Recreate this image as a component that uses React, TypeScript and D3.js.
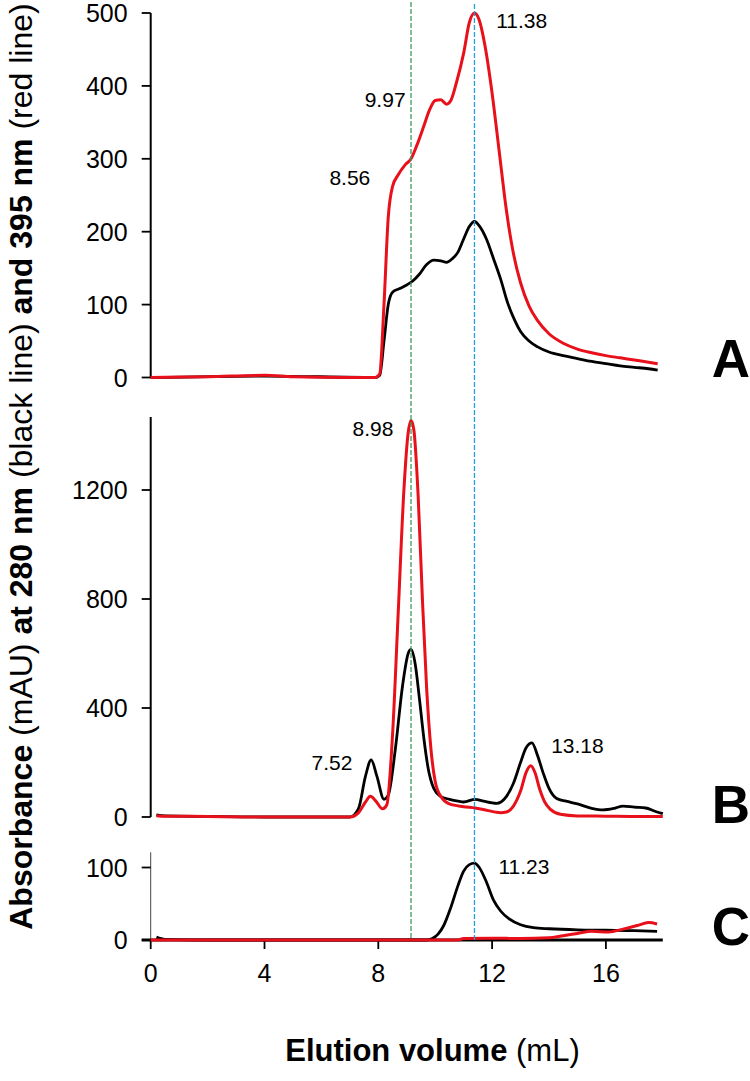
import React from "react";
import * as d3 from "d3";

type Pt = [number, number];

// Elution volume (mL) / absorbance (mAU) pairs
const panelARed: Pt[] = [
  [0, 0], [2, 1], [4, 3], [5, 1], [7, 0], [7.9, 0], [8.05, 5], [8.2, 100], [8.35, 220], [8.5, 262],
  [8.7, 278], [8.95, 292], [9.15, 300], [9.35, 318], [9.6, 345], [9.8, 367], [10.0, 380], [10.2, 381],
  [10.4, 375], [10.55, 380], [10.75, 405], [11.0, 445], [11.2, 487], [11.38, 500], [11.55, 490],
  [11.75, 455], [12.0, 390], [12.25, 310], [12.5, 230], [12.75, 170], [13.0, 130], [13.3, 98],
  [13.6, 78], [14.0, 60], [14.5, 47], [15.0, 39], [15.5, 34], [16.0, 30], [16.5, 27], [17.0, 24],
  [17.5, 21], [17.82, 19],
];
const panelABlack: Pt[] = [
  [0, 0], [4, 2], [7.9, 0], [8.05, 3], [8.2, 50], [8.35, 100], [8.5, 117], [8.75, 122], [9.0, 127],
  [9.2, 132], [9.45, 142], [9.7, 155], [9.95, 161], [10.2, 160], [10.4, 158], [10.6, 163], [10.8, 172],
  [11.0, 190], [11.2, 207], [11.38, 214], [11.55, 208], [11.8, 190], [12.05, 163], [12.3, 135],
  [12.55, 102], [12.8, 78], [13.0, 63], [13.3, 50], [13.6, 42], [14.0, 35], [14.5, 30], [15.0, 26],
  [15.5, 22], [16.0, 19], [16.5, 16], [17.0, 14], [17.5, 12], [17.82, 10],
];
const panelBRed: Pt[] = [
  [0.2, 5], [0.5, 3], [2, 2], [4, 0], [6, 0], [7.0, 0], [7.3, 15], [7.55, 55], [7.72, 76], [7.9, 60],
  [8.15, 30], [8.3, 45], [8.5, 300], [8.7, 750], [8.9, 1200], [9.05, 1410], [9.15, 1455], [9.25, 1420],
  [9.4, 1180], [9.55, 800], [9.7, 470], [9.85, 250], [10.0, 130], [10.2, 75], [10.5, 48], [11.0, 38],
  [11.4, 33], [11.8, 25], [12.3, 16], [12.5, 18], [12.75, 40], [13.0, 95], [13.2, 165], [13.36, 188],
  [13.5, 165], [13.68, 100], [13.85, 55], [14.05, 28], [14.4, 10], [15, 4], [16, 3], [17, 2], [18, 2],
];
const panelBBlack: Pt[] = [
  [0.2, 8], [0.5, 4], [2, 2], [4, 0], [7.0, 0], [7.3, 30], [7.55, 150], [7.75, 210], [7.95, 150],
  [8.2, 65], [8.35, 80], [8.6, 250], [8.85, 480], [9.05, 600], [9.15, 615], [9.3, 560], [9.45, 430],
  [9.6, 290], [9.75, 180], [9.95, 105], [10.2, 75], [10.5, 65], [10.8, 58], [11.0, 55], [11.4, 65],
  [11.7, 58], [12.15, 50], [12.5, 75], [12.75, 124], [13.0, 200], [13.2, 255], [13.4, 272],
  [13.6, 225], [13.8, 160], [14.0, 105], [14.27, 68], [14.6, 58], [15.0, 48], [15.5, 32], [15.9, 26],
  [16.3, 32], [16.6, 40], [17.0, 36], [17.4, 33], [17.7, 22], [18.0, 12],
];
const panelCBlack: Pt[] = [
  [0.2, 4], [0.5, 1], [2, 0], [9.7, 0], [9.9, 2], [10.1, 8], [10.3, 20], [10.55, 45], [10.8, 75],
  [11.0, 95], [11.2, 104], [11.38, 106], [11.55, 100], [11.8, 80], [12.05, 55], [12.3, 40], [12.6, 29],
  [13.0, 21], [13.45, 17], [14.0, 15.5], [15.0, 14], [16.0, 13.5], [17.0, 13], [17.8, 12],
];
const panelCRed: Pt[] = [
  [0, 0], [10.8, 0], [11.0, 2], [12, 2.5], [13, 2], [14.0, 3], [14.5, 6], [15.0, 9], [15.5, 12],
  [16.1, 11], [16.6, 15], [17.1, 20], [17.5, 24], [17.8, 22],
];

const xTicks = [0, 4, 8, 12, 16];
const aTicks = [0, 100, 200, 300, 400, 500];
const bTicks = [0, 400, 800, 1200];
const cTicks = [0, 100];

const greenLineX = 9.15;
const blueLineX = 11.38;

// label text, x (mL), y (value)
const annotA: [string, number, number][] = [["11.38", 13.04, 490], ["9.97", 8.24, 381], ["8.56", 7.0, 275]];
const annotB: [string, number, number][] = [["8.98", 7.81, 1427], ["7.52", 6.37, 202], ["13.18", 15.0, 264]];
const annotC: [string, number, number][] = [["11.23", 13.12, 101]];

const FONT = "'Liberation Sans', Arial, Helvetica, sans-serif";
const RED = "#e8101a";

export default function App() {
  const x = d3.scaleLinear().domain([0, 18]).range([150.7, 662.8]);
  const yA = d3.scaleLinear().domain([0, 500]).range([377.5, 13]);
  const yB = d3.scaleLinear().domain([0, 1200]).range([817, 490]);
  const yC = d3.scaleLinear().domain([0, 100]).range([940, 867.5]);

  const mk = (y: d3.ScaleLinear<number, number>) =>
    d3.line<Pt>().x((d) => x(d[0])).y((d) => y(d[1])).curve(d3.curveMonotoneX);

  const lA = mk(yA), lB = mk(yB), lC = mk(yC);
  const axX = x(0);

  const yAxis = (
    y: d3.ScaleLinear<number, number>,
    ticks: number[],
    top: number,
    width: number,
    color: string
  ) => (
    <g>
      <line x1={axX} x2={axX} y1={top} y2={y(0)} stroke={color} strokeWidth={width} />
      {ticks.map((t) => (
        <g key={t}>
          <line x1={axX - 9} x2={axX} y1={y(t)} y2={y(t)} stroke="#000" strokeWidth={1.8} />
          <text x={axX - 23} y={y(t)} dy="0.36em" textAnchor="end" fontSize={25} fontFamily={FONT}>
            {t}
          </text>
        </g>
      ))}
    </g>
  );

  const annot = (items: [string, number, number][], y: d3.ScaleLinear<number, number>) =>
    items.map(([s, vx, vy]) => (
      <text key={s} x={x(vx)} y={y(vy)} dy="0.36em" textAnchor="middle" fontSize={21} fontFamily={FONT}>
        {s}
      </text>
    ));

  return (
    <svg width={750} height={1081} style={{ position: "absolute", left: 0, top: 0, background: "#fff" }}>
      <rect width={750} height={1081} fill="#fff" />
      {/* axes */}
      {yAxis(yA, aTicks, yA(500), 2, "#000")}
      {yAxis(yB, bTicks, yB(1468), 2, "#000")}
      {yAxis(yC, cTicks, yC(121), 1, "#444")}
      <line x1={axX - 9} x2={x(18)} y1={yC(0)} y2={yC(0)} stroke="#000" strokeWidth={3} />
      {xTicks.map((t) => (
        <g key={t}>
          <line x1={x(t)} x2={x(t)} y1={yC(0)} y2={yC(0) + 9} stroke="#000" strokeWidth={1.8} />
          <text x={x(t)} y={yC(0) + 33} dy="0.36em" textAnchor="middle" fontSize={25} fontFamily={FONT}>
            {t}
          </text>
        </g>
      ))}

      {/* curves */}
      <path d={lA(panelABlack) || ""} fill="none" stroke="#000" strokeWidth={2.8} />
      <path d={lA(panelARed) || ""} fill="none" stroke={RED} strokeWidth={3} />
      <path d={lB(panelBBlack) || ""} fill="none" stroke="#000" strokeWidth={2.8} />
      <path d={lB(panelBRed) || ""} fill="none" stroke={RED} strokeWidth={3} />
      <path d={lC(panelCBlack) || ""} fill="none" stroke="#000" strokeWidth={2.8} />
      <path d={lC(panelCRed) || ""} fill="none" stroke={RED} strokeWidth={3} />

      {/* reference lines */}
      <line x1={x(greenLineX)} x2={x(greenLineX)} y1={2} y2={yC(0)} stroke="#3c9a5c" strokeWidth={1.3} strokeDasharray="5,2" />
      <line x1={x(blueLineX)} x2={x(blueLineX)} y1={4} y2={yC(0)} stroke="#1f9fdc" strokeWidth={1.3} strokeDasharray="5,2" />

      {annot(annotA, yA)}
      {annot(annotB, yB)}
      {annot(annotC, yC)}

      {/* panel letters */}
      {([["A", yA(0) - 1], ["B", yB(0) + 6], ["C", yC(0) + 5]] as [string, number][]).map(([s, yy]) => (
        <text key={s} x={731} y={yy} textAnchor="middle" fontSize={53} fontWeight="bold" fontFamily={FONT}>
          {s}
        </text>
      ))}

      {/* titles */}
      <text transform="translate(32,466.5) rotate(-90)" textAnchor="middle" fontSize={32} fontFamily={FONT}>
        <tspan fontWeight="bold">Absorbance </tspan>
        <tspan>(mAU) </tspan>
        <tspan fontWeight="bold">at 280 nm </tspan>
        <tspan>(black line) </tspan>
        <tspan fontWeight="bold">and 395 nm </tspan>
        <tspan>(red line)</tspan>
      </text>
      <text x={432.5} y={1061} textAnchor="middle" fontSize={31} fontFamily={FONT}>
        <tspan fontWeight="bold">Elution volume </tspan>
        <tspan>(mL)</tspan>
      </text>
    </svg>
  );
}
